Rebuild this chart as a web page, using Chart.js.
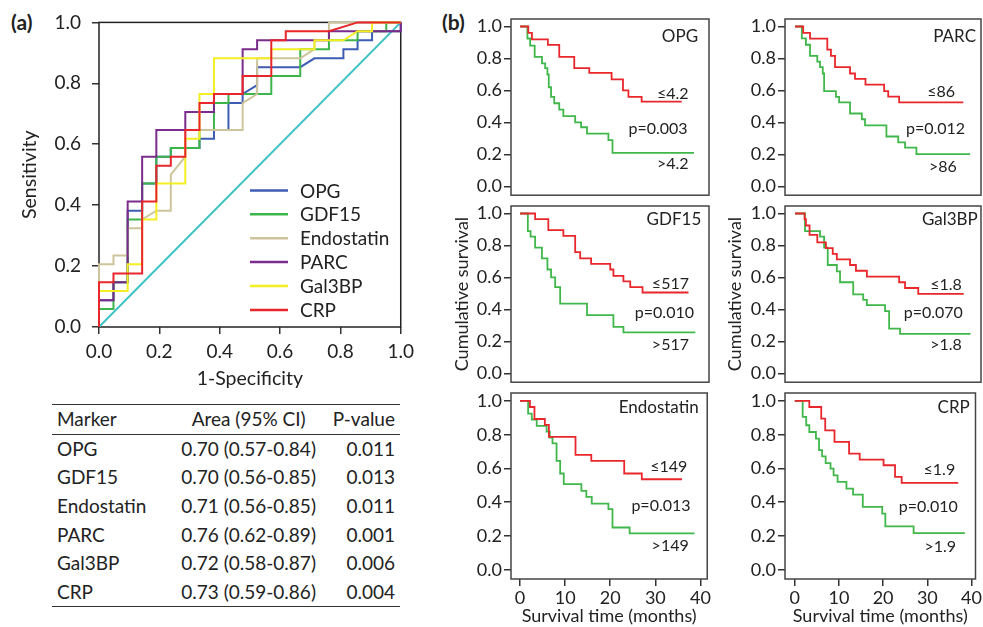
<!DOCTYPE html>
<html>
<head>
<meta charset="utf-8">
<script src="https://cdn.jsdelivr.net/npm/chart.js@4.4.0/dist/chart.umd.min.js"></script>
<style>
  body { margin: 0; background: #fff; width: 983px; height: 627px; overflow: hidden; position: relative; font-family: Lato, sans-serif; color: #222; }
  canvas { position: absolute; }
  .panel-tag { position: absolute; font-size: 21px; font-weight: bold; line-height: 24px; }
  #auc { position: absolute; left: 52px; top: 404px; width: 348px; border-collapse: collapse; font-size: 19px; }
  #auc th, #auc td { padding: 0; font-weight: normal; height: 28.6px; line-height: 22px; white-space: nowrap; }
  #auc thead tr { border-top: 1.5px solid #333; border-bottom: 1.5px solid #333; }
  #auc tbody tr:last-child { border-bottom: 1.5px solid #333; }
  #auc .c1 { width: 120px; text-align: left; padding-left: 5px; }
  #auc .c2 { width: 150px; text-align: center; }
  #auc .c3 { width: 73px; text-align: right; padding-right: 5px; }
</style>
</head>
<body>
<div class="panel-tag" style="left:11px;top:10px">(a)</div>
<div class="panel-tag" style="left:442px;top:10px">(b)</div>

<canvas id="roc" width="420" height="395" style="left:0;top:0"></canvas>
<table id="auc">
  <thead><tr><th class="c1">Marker</th><th class="c2">Area (95% CI)</th><th class="c3">P-value</th></tr></thead>
  <tbody></tbody>
</table>

<canvas id="km0" width="272" height="205" style="left:440px;top:3px"></canvas>
<canvas id="km1" width="263" height="205" style="left:720px;top:3px"></canvas>
<canvas id="km2" width="272" height="205" style="left:440px;top:190px"></canvas>
<canvas id="km3" width="263" height="205" style="left:720px;top:190px"></canvas>
<canvas id="km4" width="272" height="250" style="left:440px;top:377px"></canvas>
<canvas id="km5" width="263" height="250" style="left:720px;top:377px"></canvas>

<script>
// ---- ROC data (1-specificity, sensitivity) ----
const rocMarkers = ['OPG', 'GDF15', 'Endostatin', 'PARC', 'Gal3BP', 'CRP'];
const rocTicks = [0, 0.2, 0.4, 0.6, 0.8, 1.0];
const refLine = [0, 1];

const fprOPG = [0, 0, .048, .048, .095, .095, .143, .143, .190, .190, .238, .238, .333, .333, .381, .381, .429, .429, .476, .476, .524, .524, .667, .714, .810, .810, .857, .857, .905, .905, 1, 1];
const tprOPG = [0, .088, .088, .147, .147, .382, .382, .471, .471, .559, .559, .588, .588, .618, .618, .647, .647, .735, .735, .765, .794, .853, .853, .882, .882, .912, .912, .941, .941, .971, .971, 1];

const fprGDF15 = [0, 0, .048, .048, .095, .095, .143, .143, .190, .190, .238, .238, .333, .333, .381, .381, .429, .429, .571, .571, .667, .667, .762, .762, .857, .857, .952, .952, 1];
const tprGDF15 = [0, .059, .059, .147, .147, .353, .353, .471, .471, .559, .559, .588, .588, .647, .647, .735, .735, .765, .765, .824, .824, .912, .912, .941, .941, .971, .971, 1, 1];

const fprEndo = [0, 0, .048, .048, .095, .095, .143, .143, .190, .238, .238, .286, .286, .476, .476, .524, .524, .667, .714, .714, .762, .762, 1];
const tprEndo = [0, .206, .206, .235, .235, .324, .324, .353, .382, .382, .5, .559, .647, .647, .735, .765, .882, .882, .912, .941, .941, 1, 1];

const fprPARC = [0, 0, .048, .048, .095, .095, .143, .143, .190, .190, .286, .286, .381, .381, .476, .476, .524, .524, .762, .762, 1, 1];
const tprPARC = [0, .088, .088, .147, .147, .412, .412, .559, .559, .647, .647, .706, .706, .765, .765, .912, .912, .941, .941, .971, .971, 1];

const fprGal3BP = [0, 0, .095, .095, .143, .143, .190, .190, .286, .286, .333, .333, .381, .381, .571, .571, .714, .714, .810, .857, .905, .905, 1];
const tprGal3BP = [0, .118, .118, .206, .206, .353, .353, .471, .471, .618, .618, .765, .765, .882, .882, .912, .912, .941, .941, .971, .971, 1, 1];

const fprCRP = [0, 0, .048, .048, .143, .143, .190, .190, .238, .238, .286, .286, .333, .333, .381, .381, .476, .476, .571, .571, .619, .619, .762, .857, 1];
const tprCRP = [0, .147, .147, .176, .176, .412, .412, .529, .529, .559, .559, .647, .647, .735, .735, .765, .765, .824, .824, .941, .941, .971, .971, 1, 1];

// ---- AUC table ----
const aucArea = ['0.70 (0.57-0.84)', '0.70 (0.56-0.85)', '0.71 (0.56-0.85)', '0.76 (0.62-0.89)', '0.72 (0.58-0.87)', '0.73 (0.59-0.86)'];
const aucP = ['0.011', '0.013', '0.011', '0.001', '0.006', '0.004'];

// ---- Kaplan-Meier data (months, cumulative survival) ----
const kmNames = ['OPG', 'PARC', 'GDF15', 'Gal3BP', 'Endostatin', 'CRP'];
const kmCutLow = ['≤4.2', '≤86', '≤517', '≤1.8', '≤149', '≤1.9'];
const kmCutHigh = ['>4.2', '>86', '>517', '>1.8', '>149', '>1.9'];
const kmP = ['p=0.003', 'p=0.012', 'p=0.010', 'p=0.070', 'p=0.013', 'p=0.010'];
const kmXTicks = [0, 10, 20, 30, 40];
const kmYTicks = [0, 0.2, 0.4, 0.6, 0.8, 1.0];

const opgLowT = [0, 1.8, 2.6, 6.1, 8.6, 11.9, 15.2, 20.1, 22.6, 23.8, 26.7, 35.5];
const opgLowS = [1, .96, .92, .885, .81, .74, .71, .67, .60, .56, .53, .53];
const opgHighT = [0, 1.6, 2.2, 3.2, 4.8, 5.5, 6.0, 6.3, 6.8, 7.5, 8.6, 9.5, 12.1, 13.4, 14.7, 19.4, 20.3, 38.2];
const opgHighS = [1, .925, .88, .81, .77, .74, .70, .62, .56, .52, .48, .44, .40, .37, .33, .29, .21, .21];

const parcLowT = [0, 1.8, 3.3, 7.1, 7.9, 8.8, 12.1, 13.2, 15.5, 19.6, 20.5, 22.9, 37.0];
const parcLowS = [1, .96, .924, .856, .816, .746, .706, .672, .636, .596, .562, .526, .526];
const parcHighT = [0, 1.5, 2.4, 3.3, 4.9, 5.5, 6.1, 6.4, 9.0, 9.7, 12.1, 14.7, 15.4, 20.1, 22.7, 24.2, 26.7, 38.5];
const parcHighS = [1, .926, .886, .816, .78, .746, .706, .596, .56, .526, .456, .42, .382, .312, .276, .242, .202, .202];

const gdfLowT = [0, 3.3, 6.2, 9.5, 12.1, 13.2, 15.6, 19.8, 20.5, 22.7, 24.2, 26.9, 37.0];
const gdfLowS = [1, .965, .896, .86, .758, .72, .685, .65, .61, .575, .54, .506, .506];
const gdfHighT = [0, 1.7, 2.3, 3.3, 4.8, 6.0, 6.8, 7.7, 8.8, 14.7, 20.5, 22.7, 38.5];
const gdfHighS = [1, .89, .856, .787, .72, .65, .60, .54, .437, .364, .291, .256, .256];

const galLowT = [0, 2.1, 2.4, 3.2, 4.9, 6.8, 8.3, 9.2, 12.1, 13.4, 15.8, 22.9, 24.2, 27.1, 37.1];
const galLowS = [1, .964, .925, .866, .82, .783, .747, .713, .678, .642, .605, .57, .534, .498, .498];
const galHighT = [0, 2.2, 5.5, 6.4, 7.2, 9.2, 9.9, 12.8, 15.0, 15.8, 19.8, 20.7, 23.1, 38.6];
const galHighS = [1, .89, .856, .787, .678, .638, .57, .494, .46, .427, .39, .28, .247, .247];

const endoLowT = [0, 2.2, 3.2, 5.5, 6.4, 12.3, 15.8, 23.1, 27.0, 35.9];
const endoLowS = [1, .964, .893, .858, .787, .68, .645, .57, .536, .536];
const endoHighT = [0, 1.8, 2.6, 3.7, 5.9, 6.6, 7.2, 8.1, 8.9, 9.7, 13.6, 14.7, 15.9, 19.6, 20.5, 24.3, 38.7];
const endoHighS = [1, .925, .89, .852, .818, .783, .748, .645, .57, .507, .467, .432, .392, .359, .25, .215, .215];

const crpLowT = [0, 3.3, 6.0, 6.9, 9.0, 12.3, 14.7, 20.1, 22.7, 24.2, 37.0];
const crpLowS = [1, .964, .895, .826, .757, .688, .652, .619, .55, .514, .514];
const crpHighT = [0, 1.8, 2.6, 3.3, 4.8, 5.5, 6.2, 7.0, 8.1, 8.8, 9.7, 11.7, 13.2, 15.4, 19.8, 20.5, 26.9, 38.5];
const crpHighS = [1, .905, .856, .816, .777, .708, .672, .632, .599, .559, .52, .48, .445, .372, .332, .257, .217, .217];

const kmLowT = [opgLowT, parcLowT, gdfLowT, galLowT, endoLowT, crpLowT];
const kmLowS = [opgLowS, parcLowS, gdfLowS, galLowS, endoLowS, crpLowS];
const kmHighT = [opgHighT, parcHighT, gdfHighT, galHighT, endoHighT, crpHighT];
const kmHighS = [opgHighS, parcHighS, gdfHighS, galHighS, endoHighS, crpHighS];

// ---- styling / layout ----
const rocFpr = [fprOPG, fprGDF15, fprEndo, fprPARC, fprGal3BP, fprCRP];
const rocTpr = [tprOPG, tprGDF15, tprEndo, tprPARC, tprGal3BP, tprCRP];
const rocColors = ['#3d5cb4', '#3cb54a', '#cdc49b', '#7b2b8c', '#f3ef22', '#e8262b'];
const kmRed = '#e8262b';
const kmGreen = '#40b74a';
const FONT = 'Lato, sans-serif';

// text positions in data units: title, low cutoff, p value, high cutoff
const kmTextPos = [
  [[39.1, .94], [37.0, .58], [36.8, .36], [37.0, .14]],
  [[39.8, .94], [35.2, .59], [37.4, .36], [35.6, .125]],
  [[39.8, .96], [37.1, .56], [38.2, .38], [37.1, .18]],
  [[40.2, .96], [36.7, .556], [36.9, .38], [36.7, .18]],
  [[39.6, .96], [37.1, .61], [37.8, .38], [37.4, .14]],
  [[39.6, .96], [36.3, .59], [36.9, .37], [36.5, .136]]
];

Chart.defaults.font.family = FONT;
Chart.defaults.color = '#222';

// table rows
const tbody = document.querySelector('#auc tbody');
rocMarkers.forEach((m, i) => {
  const tr = document.createElement('tr');
  tr.innerHTML = `<td class="c1">${m}</td><td class="c2">${aucArea[i]}</td><td class="c3">${aucP[i]}</td>`;
  tbody.appendChild(tr);
});

// box round the plot area
const frameBox = {
  id: 'frameBox',
  beforeDatasetsDraw(chart, args, opts) {
    const { ctx, chartArea: a } = chart;
    ctx.save();
    ctx.strokeStyle = opts.color || '#333';
    ctx.lineWidth = 1.5;
    ctx.strokeRect(a.left, a.top, a.right - a.left, a.bottom - a.top);
    ctx.restore();
  }
};

// legend inside the ROC plot
const rocLegend = {
  id: 'rocLegend',
  afterDatasetsDraw(chart) {
    const { ctx, chartArea: a } = chart;
    ctx.save();
    ctx.font = '19px ' + FONT;
    ctx.textBaseline = 'middle';
    rocMarkers.forEach((m, i) => {
      const y = a.top + 168 + i * 23.9;
      ctx.strokeStyle = rocColors[i];
      ctx.lineWidth = 2.5;
      ctx.beginPath();
      ctx.moveTo(a.left + 151, y);
      ctx.lineTo(a.left + 189, y);
      ctx.stroke();
      ctx.fillStyle = '#222';
      ctx.fillText(m, a.left + 201, y + 1);
    });
    ctx.restore();
  }
};

// labels inside the survival panels
const kmText = {
  id: 'kmText',
  afterDatasetsDraw(chart, args, opts) {
    const { ctx, scales } = chart;
    ctx.save();
    ctx.textAlign = 'right';
    ctx.textBaseline = 'middle';
    ctx.fillStyle = '#222';
    opts.items.forEach(it => {
      ctx.font = it.size + 'px ' + FONT;
      ctx.fillText(it.text, scales.x.getPixelForValue(it.x), scales.y.getPixelForValue(it.y));
    });
    ctx.restore();
  }
};

const tickGrid = { display: true, drawOnChartArea: false, drawTicks: true, tickLength: 7, color: '#333', lineWidth: 1.5 };

// ---- ROC chart ----
const rocDatasets = rocMarkers.map((m, i) => ({
  label: m,
  data: rocFpr[i].map((x, j) => ({ x: x, y: rocTpr[i][j] })),
  borderColor: rocColors[i],
  borderWidth: 2,
  pointRadius: 0,
  tension: 0,
  clip: 4,
  order: rocMarkers.length - i
}));
rocDatasets.unshift({
  label: 'reference',
  data: refLine.map(v => ({ x: v, y: v })),
  borderColor: '#3fc2c4',
  borderWidth: 2,
  pointRadius: 0,
  order: 10
});

new Chart(document.getElementById('roc'), {
  type: 'line',
  data: { datasets: rocDatasets },
  options: {
    responsive: false,
    animation: false,
    devicePixelRatio: 1,
    layout: { padding: { top: 21, right: 16, left: 0, bottom: 0 } },
    plugins: { legend: { display: false }, tooltip: { enabled: false }, frameBox: { color: '#222' } },
    scales: {
      x: {
        type: 'linear', min: 0, max: 1,
        afterBuildTicks: s => { s.ticks = rocTicks.map(v => ({ value: v })); },
        afterFit: s => { s.height = 68; },
        ticks: { font: { size: 19 }, padding: 6, maxRotation: 0, callback: v => v.toFixed(1) },
        grid: tickGrid,
        border: { display: false },
        title: { display: true, text: '1-Specificity', font: { size: 19.5 }, padding: { top: 0, bottom: 5 } }
      },
      y: {
        type: 'linear', min: 0, max: 1,
        afterBuildTicks: s => { s.ticks = rocTicks.map(v => ({ value: v })); },
        afterFit: s => { s.width = 99; },
        ticks: { font: { size: 19 }, padding: 11, callback: v => v.toFixed(1) },
        grid: tickGrid,
        border: { display: false },
        title: { display: true, text: 'Sensitivity', font: { size: 19.5 }, padding: { top: 18, bottom: 0 } }
      }
    }
  },
  plugins: [frameBox, rocLegend]
});

// ---- Kaplan-Meier panels ----
kmNames.forEach((name, i) => {
  const col = i % 2;
  const row = Math.floor(i / 2);
  const bottomRow = row === 2;
  const middleRow = row === 1;
  const pos = kmTextPos[i];
  const toPts = (T, S) => T.map((t, j) => ({ x: t, y: S[j] }));

  new Chart(document.getElementById('km' + i), {
    type: 'line',
    data: {
      datasets: [
        { label: kmCutHigh[i], data: toPts(kmHighT[i], kmHighS[i]), borderColor: kmGreen, borderWidth: 1.8, pointRadius: 0, stepped: true, order: 2 },
        { label: kmCutLow[i], data: toPts(kmLowT[i], kmLowS[i]), borderColor: kmRed, borderWidth: 1.8, pointRadius: 0, stepped: true, order: 1 }
      ]
    },
    options: {
      responsive: false,
      animation: false,
      devicePixelRatio: 1,
      layout: { padding: { top: 16, right: col === 0 ? 3 : 2, left: 0, bottom: bottomRow ? 0 : 2 } },
      plugins: {
        legend: { display: false },
        tooltip: { enabled: false },
        frameBox: { color: '#444' },
        kmText: {
          items: [
            { text: name, x: pos[0][0], y: pos[0][1], size: 17 },
            { text: kmCutLow[i], x: pos[1][0], y: pos[1][1], size: 16 },
            { text: kmP[i], x: pos[2][0], y: pos[2][1], size: 16 },
            { text: kmCutHigh[i], x: pos[3][0], y: pos[3][1], size: 16 }
          ]
        }
      },
      scales: {
        x: {
          type: 'linear',
          min: col === 0 ? -2 : -2.2,
          max: col === 0 ? 41.5 : 40.9,
          display: bottomRow,
          afterBuildTicks: s => { s.ticks = kmXTicks.map(v => ({ value: v })); },
          afterFit: s => { s.height = bottomRow ? 48 : 0; },
          ticks: { font: { size: 18 }, padding: 1, maxRotation: 0 },
          grid: tickGrid,
          border: { display: false },
          title: { display: true, text: 'Survival time (months)', font: { size: 18 }, padding: 0 }
        },
        y: {
          type: 'linear', min: -0.055, max: 1.047,
          afterBuildTicks: s => { s.ticks = kmYTicks.map(v => ({ value: v })); },
          afterFit: s => { s.width = col === 0 ? 71 : 65; },
          ticks: { font: { size: 18 }, padding: 2, callback: v => v.toFixed(1) },
          grid: tickGrid,
          border: { display: false },
          title: { display: middleRow, text: 'Cumulative survival', font: { size: 18 }, padding: { top: col === 0 ? 11 : 4, bottom: 0 } }
        }
      }
    },
    plugins: [frameBox, kmText]
  });
});
</script>
</body>
</html>
